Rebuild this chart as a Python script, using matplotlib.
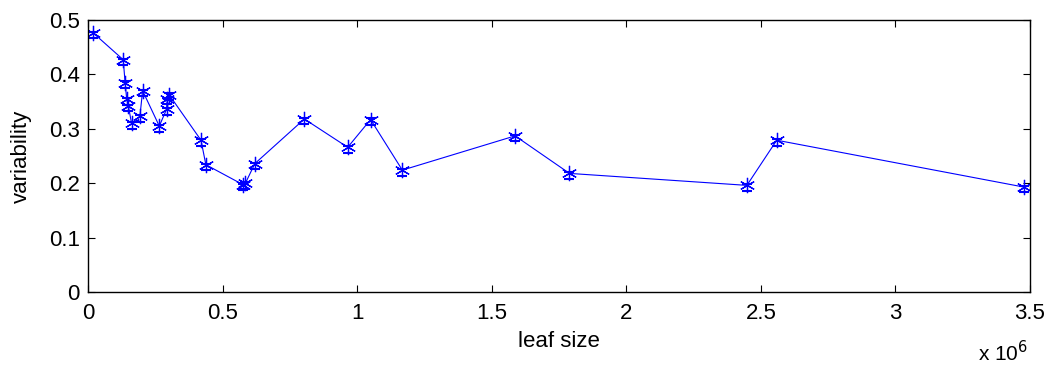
import numpy as np
import matplotlib
matplotlib.use('Agg')
import matplotlib.pyplot as plt
from matplotlib.ticker import FuncFormatter

# leaf size (raw units) and variability
leaf_size = [0.020e6, 0.131e6, 0.138e6, 0.144e6, 0.150e6, 0.162e6, 0.193e6,
             0.203e6, 0.265e6, 0.292e6, 0.295e6, 0.301e6, 0.420e6, 0.438e6,
             0.577e6, 0.585e6, 0.620e6, 0.804e6, 0.965e6, 1.050e6, 1.168e6,
             1.587e6, 1.789e6, 2.448e6, 2.559e6, 3.476e6]
variability = [0.476, 0.427, 0.385, 0.354, 0.342, 0.310, 0.323,
               0.370, 0.305, 0.336, 0.355, 0.363, 0.279, 0.234,
               0.197, 0.200, 0.236, 0.318, 0.266, 0.317, 0.224,
               0.287, 0.218, 0.196, 0.279, 0.193]
err_low = [0.010] * len(leaf_size)
err_high = [0.002] * len(leaf_size)

plt.rcParams['font.family'] = ['Liberation Sans', 'DejaVu Sans']

fig = plt.figure(figsize=(10.56, 3.69), dpi=100)
ax = fig.add_axes([0.0833, 0.2087, 0.8921, 0.7371])

# matlab style asterisk marker
ax.plot(leaf_size, variability, color='blue', lw=0.8,
        marker=(6, 2, 0), markersize=11, markeredgewidth=0.9)
ax.errorbar(leaf_size, variability, yerr=[err_low, err_high], fmt='none',
            ecolor='blue', elinewidth=0.7, capsize=3.5, capthick=1.5)

ax.set_xlim(0, 3.5e6)
ax.set_ylim(0, 0.5)
ax.set_xticks(np.arange(0, 3.6e6, 0.5e6))
ax.set_yticks([0, 0.1, 0.2, 0.3, 0.4, 0.5])
ax.xaxis.set_major_formatter(FuncFormatter(lambda v, p: f'{v/1e6:g}'))
ax.yaxis.set_major_formatter(FuncFormatter(lambda v, p: f'{v:g}'))
ax.tick_params(direction='in', top=True, right=True, length=5,
               labelsize=16, width=0.8)
ax.tick_params(axis='x', pad=8)
ax.tick_params(axis='y', pad=6)
for s in ax.spines.values():
    s.set_linewidth(1.0)

ax.set_xlabel('leaf size', fontsize=16, labelpad=5)
ax.set_ylabel('variability', fontsize=16, labelpad=12)
fig.text(0.926, 0.022, r'x 10$^6$', fontsize=15)

fig.savefig('out.png', dpi=100)
